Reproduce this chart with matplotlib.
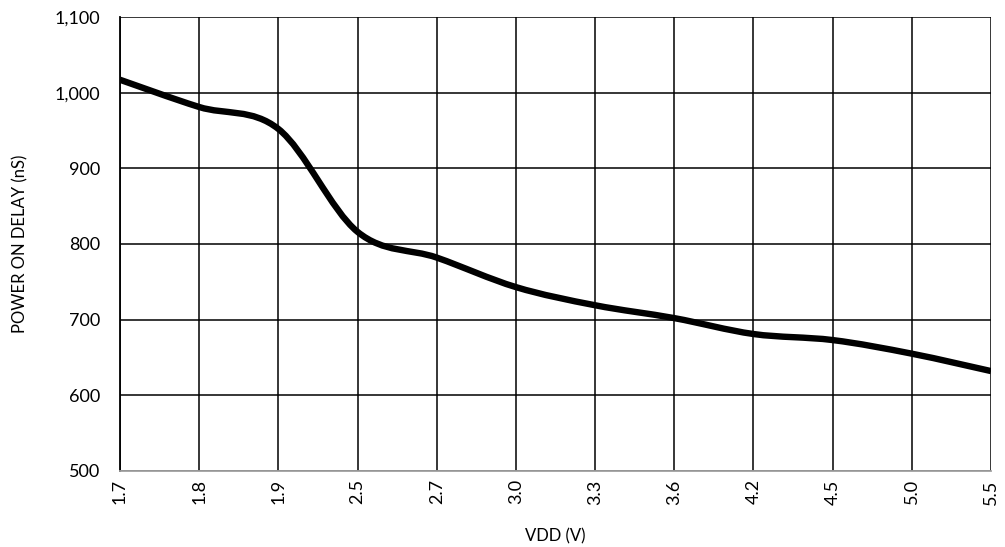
import numpy as np
import matplotlib.pyplot as plt
from matplotlib.path import Path
from matplotlib.patches import PathPatch

vdd_labels = ["1.7", "1.8", "1.9", "2.5", "2.7", "3.0", "3.3", "3.6", "4.2", "4.5", "5.0", "5.5"]
delay_ns = [1017, 981, 952, 816, 782, 743, 719, 702, 681, 673, 655, 632]

plt.rcParams['font.family'] = ['Lato', 'DejaVu Sans']

fig = plt.figure(figsize=(10.05, 5.47), dpi=100)
ax = fig.add_axes([0.1194, 0.139, 0.8667, 0.830])

x = np.arange(len(vdd_labels), dtype=float)
y = np.array(delay_ns, dtype=float)

# smoothed line like a spreadsheet chart (catmull-rom style bezier)
verts = [(x[0], y[0])]
codes = [Path.MOVETO]
n = len(x)
for i in range(n - 1):
    p0 = np.array([x[max(i - 1, 0)], y[max(i - 1, 0)]])
    p1 = np.array([x[i], y[i]])
    p2 = np.array([x[i + 1], y[i + 1]])
    p3 = np.array([x[min(i + 2, n - 1)], y[min(i + 2, n - 1)]])
    c1 = p1 + (p2 - p0) / 6
    c2 = p2 - (p3 - p1) / 6
    verts += [tuple(c1), tuple(c2), tuple(p2)]
    codes += [Path.CURVE4] * 3
ax.add_patch(PathPatch(Path(verts, codes), fill=False, lw=4.6, color='black',
                       capstyle='butt', zorder=3))

ax.set_xlim(0, n - 1)
ax.set_ylim(500, 1100)
ax.set_xticks(x)
ax.set_xticklabels(vdd_labels, rotation=90, fontsize=13)
ax.set_yticks(range(500, 1101, 100))
ax.set_yticklabels([f"{v:,}" for v in range(500, 1101, 100)], fontsize=13)
ax.tick_params(axis='y', length=0, pad=14)
ax.tick_params(axis='x', length=0, pad=6)
ax.grid(True, color='black', lw=1.1)
ax.set_axisbelow(True)

for s in ['top', 'right']:
    ax.spines[s].set_visible(False)
ax.spines['left'].set_color('black')
ax.spines['left'].set_linewidth(1.3)
ax.spines['bottom'].set_color('#a0a0a0')
ax.spines['bottom'].set_linewidth(1.3)

ax.set_xlabel("VDD (V)", fontsize=12)
ax.set_ylabel("POWER ON DELAY (nS)", fontsize=12)
ax.xaxis.set_label_coords(0.5, -0.126)
ax.yaxis.set_label_coords(-0.1055, 0.5)

fig.savefig("out.png", dpi=100)
